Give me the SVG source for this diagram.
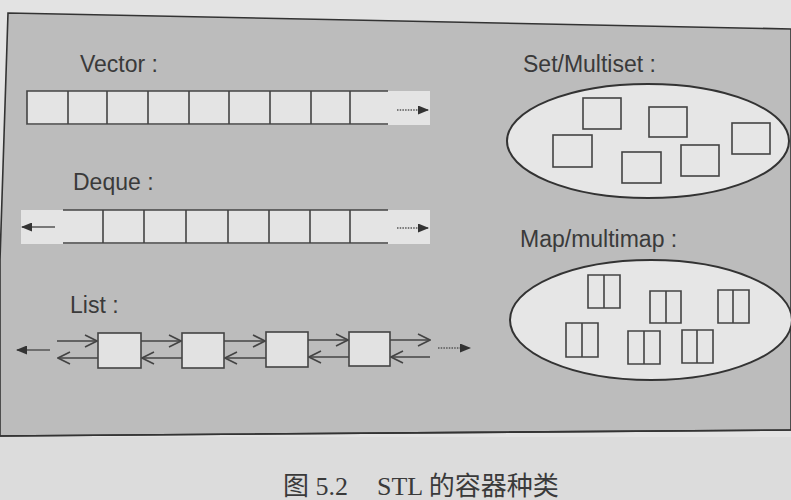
<svg xmlns="http://www.w3.org/2000/svg" width="791" height="500" viewBox="0 0 791 500">
<style>
.lbl{font-family:"Liberation Sans",Arial,sans-serif;font-size:23px;fill:#3a3a3a}
.cap{font-family:"Liberation Serif","Noto Sans CJK SC",serif;font-size:26px;fill:#3a3a3a}
.ln{stroke:#444;stroke-width:1.6;fill:none}
.cell{fill:#e4e4e4;stroke:none}
.box{fill:#e2e2e2;stroke:#444;stroke-width:1.6}
.ob{fill:none;stroke:#444;stroke-width:1.6}
.ell{fill:#e6e6e6;stroke:#333;stroke-width:2}
.dot{stroke:#555;stroke-width:1.4;stroke-dasharray:1.5 1.2;fill:none}
.arr{stroke:#555;stroke-width:1.6;fill:none}
</style>
<defs>
<marker id="fh" markerWidth="11" markerHeight="9" refX="10" refY="4.5" orient="auto" markerUnits="userSpaceOnUse">
<path d="M0,0 L11,4.5 L0,9 Z" fill="#333"/>
</marker>
<marker id="oh" markerWidth="14" markerHeight="14" refX="13" refY="7" orient="auto" markerUnits="userSpaceOnUse">
<path d="M1,1 L13,7 L1,13" fill="none" stroke="#444" stroke-width="1.6"/>
</marker>
</defs>
<rect x="0" y="0" width="791" height="500" fill="#e3e3e3"/>
<polygon points="8,13 791,29 791,430 0,436 0,260" fill="#bcbcbc" stroke="#333" stroke-width="1.6"/>
<rect x="0" y="437" width="791" height="63" fill="#dcdcdc"/>
<line x1="0" y1="436" x2="791" y2="430" stroke="#333" stroke-width="1.6"/>

<g id="vector">
<text class="lbl" x="80" y="72">Vector :</text>
<rect class="cell" x="27" y="91" width="403" height="34"/>
<path class="ln" d="M388,91 H27 V124 H388 M68,91 V124 M107,91 V124 M148,91 V124 M189,91 V124 M229,91 V124 M270,91 V124 M311,91 V124 M350,91 V124"/>
</g>
<g id="deque">
<text class="lbl" x="73" y="190">Deque :</text>
<rect class="cell" x="21" y="210" width="409" height="34"/>
<path class="ln" d="M63,210 H388 M63,243 H388 M103,210 V243 M144,210 V243 M186,210 V243 M228,210 V243 M269,210 V243 M310,210 V243 M350,210 V243"/>
</g>
<g id="list">
<text class="lbl" x="70" y="313">List :</text>
<rect class="box" x="98" y="333" width="43" height="35"/>
<rect class="box" x="182" y="333" width="42" height="35"/>
<rect class="box" x="266" y="332" width="42" height="35"/>
<rect class="box" x="349" y="332" width="41" height="34"/>
</g>
<g id="set">
<text class="lbl" x="523" y="72">Set/Multiset :</text>
<ellipse class="ell" cx="648" cy="141" rx="141" ry="57"/>
<rect class="ob" x="583" y="98" width="38" height="31"/>
<rect class="ob" x="649" y="107" width="38" height="30"/>
<rect class="ob" x="732" y="123" width="38" height="31"/>
<rect class="ob" x="553" y="135" width="39" height="32"/>
<rect class="ob" x="622" y="152" width="39" height="31"/>
<rect class="ob" x="681" y="145" width="38" height="31"/>
</g>
<g id="map">
<text class="lbl" x="520" y="247">Map/multimap :</text>
<ellipse class="ell" cx="651" cy="320" rx="141" ry="60"/>
<path class="ob" d="M588,275 h32 v33 h-32 Z M604,275 V308"/>
<path class="ob" d="M650,291 h31 v32 h-31 Z M666,291 V323"/>
<path class="ob" d="M718,290 h31 v33 h-31 Z M733,290 V323"/>
<path class="ob" d="M566,323 h32 v34 h-32 Z M582,323 V357"/>
<path class="ob" d="M628,331 h32 v33 h-32 Z M644,331 V364"/>
<path class="ob" d="M682,330 h31 v33 h-31 Z M697,330 V363"/>
</g>
<g id="connectors">
<line class="dot" x1="397" y1="110" x2="428" y2="110" marker-end="url(#fh)"/>
<line class="arr" x1="55" y1="227" x2="22" y2="227" marker-end="url(#fh)"/>
<line class="dot" x1="397" y1="228" x2="428" y2="228" marker-end="url(#fh)"/>
<line class="arr" x1="50" y1="350" x2="17" y2="350" marker-end="url(#fh)"/>
<line class="dot" x1="438" y1="348" x2="470" y2="348" marker-end="url(#fh)"/>
<line class="ob" x1="57" y1="341" x2="97" y2="341" marker-end="url(#oh)"/>
<line class="ob" x1="141" y1="341" x2="181" y2="341" marker-end="url(#oh)"/>
<line class="ob" x1="224" y1="341" x2="265" y2="341" marker-end="url(#oh)"/>
<line class="ob" x1="308" y1="340" x2="348" y2="340" marker-end="url(#oh)"/>
<line class="ob" x1="390" y1="340" x2="430" y2="340" marker-end="url(#oh)"/>
<line class="ob" x1="98" y1="358" x2="58" y2="358" marker-end="url(#oh)"/>
<line class="ob" x1="182" y1="358" x2="142" y2="358" marker-end="url(#oh)"/>
<line class="ob" x1="266" y1="358" x2="225" y2="358" marker-end="url(#oh)"/>
<line class="ob" x1="349" y1="357" x2="309" y2="357" marker-end="url(#oh)"/>
<line class="ob" x1="430" y1="357" x2="391" y2="357" marker-end="url(#oh)"/>
</g>
<text class="cap" x="283" y="495">图 5.2<tspan x="377">STL 的容器种类</tspan></text>
</svg>
